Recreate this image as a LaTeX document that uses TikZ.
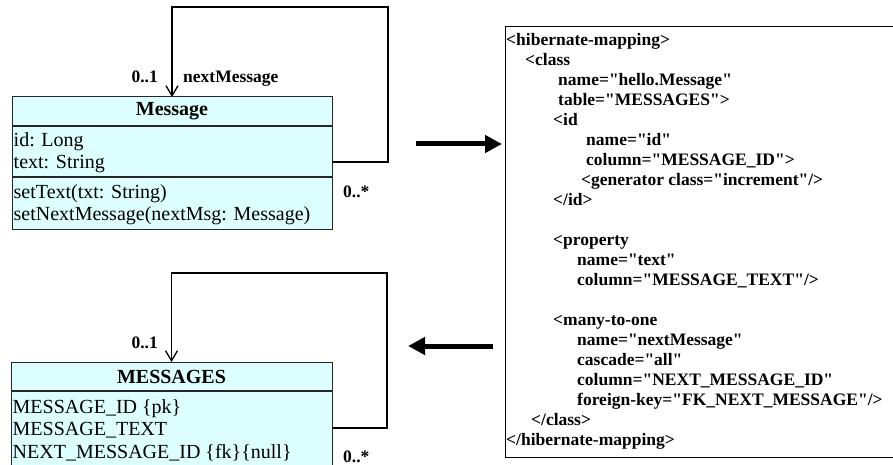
\documentclass[tikz,border=0pt]{standalone}
\usepackage{fontspec}
\setmainfont{Liberation Serif}[Ligatures=TeXOff]
\usetikzlibrary{arrows.meta}
\definecolor{boxcyan}{RGB}{221,255,255}
\tikzset{
  umlbox/.style={draw=black!85, line width=1pt, fill=boxcyan, inner sep=0pt, outer sep=0pt, anchor=north west},
  sepline/.style={line width=1.6pt, black!85},
  cell/.style={anchor=base west, inner sep=0pt, font=\fontsize{20}{22}\selectfont},
  boxtitle/.style={anchor=center, inner sep=0pt, font=\fontsize{20}{22}\selectfont\bfseries},
  mult/.style={inner sep=0pt, font=\fontsize{17.5}{20}\selectfont\bfseries},
  assoc/.style={line width=1.3pt, -{Straight Barb[length=10pt,width=12pt,line width=1.3pt]}},
  bigarrow/.style={line width=5pt, -{Triangle[length=17pt,width=17pt]}},
  xmlbox/.style={draw=black, line width=1pt, fill=white, inner sep=0pt, outer sep=0pt, anchor=north west},
  xmltext/.style={anchor=north west, inner sep=0pt, align=left, font=\fontsize{17.5}{20}\selectfont\bfseries}
}
\begin{document}
\begin{tikzpicture}[x=1pt,y=-1pt]
\clip (0,0) rectangle (893,465);
\fill[white] (0,0) rectangle (893,465);

% ---- class Message ----
\node[umlbox, minimum width=320pt, minimum height=132pt] (msg) at (12,97) {};
\draw[sepline] (12,126) -- (332,126);
\draw[sepline] (12,177) -- (332,177);
\node[boxtitle] (msgtitle) at (172,111.5) {Message};
\node[cell] (a1) at (13.5,147) {id: Long};
\node[cell] (a2) at (13.5,168.5) {text: String};
\node[cell] (m1) at (13.5,198) {setText(txt: String)};
\node[cell] (m2) at (13.5,220) {setNextMessage(nextMsg: Message)};

\coordinate (msgout) at (332,162);
\draw[assoc] (msgout) -| (388,7) -| (msg.north);
\node[mult, anchor=base east] (msgone) at (158,83) {0..1};
\node[mult, anchor=base west] (msgrole) at (183,83) {nextMessage};
\node[mult, anchor=base west] (msgmany) at (343,197.5) {0..*};

% ---- table MESSAGES ----
\node[umlbox, minimum width=321pt, minimum height=130pt] (tbl) at (11,362) {};
\draw[sepline] (11,391) -- (332,391);
\node[boxtitle] (tbltitle) at (171.5,377) {MESSAGES};
\node[cell] (c1) at (12.5,413) {MESSAGE\_ID \{pk\}};
\node[cell] (c2) at (12.5,435.5) {MESSAGE\_TEXT};
\node[cell] (c3) at (12.5,458) {NEXT\_MESSAGE\_ID \{fk\}\{null\}};

\coordinate (tblout) at (332,428);
\draw[assoc] (tblout) -| (387,273) -| (tbl.north);
\node[mult, anchor=base east] (tblone) at (158,348) {0..1};
\node[mult, anchor=base west] (tblmany) at (343,462.5) {0..*};

% ---- mapping file ----
\node[xmlbox, minimum width=400pt, minimum height=430pt] (xml) at (505,27) {};
\node[xmltext] (xmlcode) at (506,33.5) {%
  <hibernate-mapping>\\
  \hspace*{19pt}<class\\
  \hspace*{52pt}name="hello.Message"\\
  \hspace*{52pt}table="MESSAGES">\\
  \hspace*{47pt}<id\\
  \hspace*{80pt}name="id"\\
  \hspace*{80pt}column="MESSAGE\_ID">\\
  \hspace*{75pt}<generator class="increment"/>\\
  \hspace*{47pt}</id>\\
  \mbox{}\\
  \hspace*{47pt}<property\\
  \hspace*{71pt}name="text"\\
  \hspace*{71pt}column="MESSAGE\_TEXT"/>\\
  \mbox{}\\
  \hspace*{47pt}<many-to-one\\
  \hspace*{71pt}name="nextMessage"\\
  \hspace*{71pt}cascade="all"\\
  \hspace*{71pt}column="NEXT\_MESSAGE\_ID"\\
  \hspace*{71pt}foreign-key="FK\_NEXT\_MESSAGE"/>\\
  \hspace*{25pt}</class>\\
  </hibernate-mapping>};

% ---- transformation arrows ----
\coordinate (fwdstart) at (416,144);
\coordinate (fwdend) at (502,144);
\coordinate (backstart) at (493,346);
\coordinate (backend) at (408,346);
\draw[bigarrow] (fwdstart) -- (fwdend);
\draw[bigarrow] (backstart) -- (backend);
\end{tikzpicture}
\end{document}
